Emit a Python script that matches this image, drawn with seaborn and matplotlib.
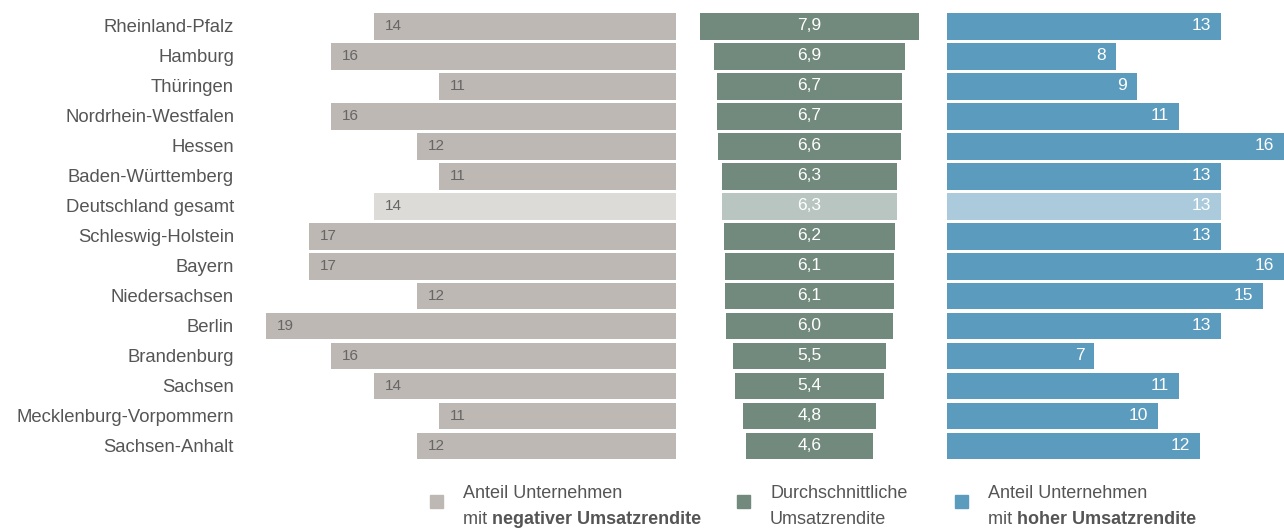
import pandas as pd
import seaborn as sns
import matplotlib.pyplot as plt

sns.set_style('white')
plt.rcParams['font.family'] = ['Liberation Sans', 'DejaVu Sans']

# Data
laender = ['Rheinland-Pfalz', 'Hamburg', 'Thüringen', 'Nordrhein-Westfalen', 'Hessen',
           'Baden-Württemberg', 'Deutschland gesamt', 'Schleswig-Holstein', 'Bayern',
           'Niedersachsen', 'Berlin', 'Brandenburg', 'Sachsen', 'Mecklenburg-Vorpommern',
           'Sachsen-Anhalt']
negativ = [14, 16, 11, 16, 12, 11, 14, 17, 17, 12, 19, 16, 14, 11, 12]
rendite = [7.9, 6.9, 6.7, 6.7, 6.6, 6.3, 6.3, 6.2, 6.1, 6.1, 6.0, 5.5, 5.4, 4.8, 4.6]
hoch = [13, 8, 9, 11, 16, 13, 13, 13, 16, 15, 13, 7, 11, 10, 12]

df = pd.DataFrame({'Land': laender, 'Negativ': negativ, 'Rendite': rendite, 'Hoch': hoch})
df['Rendite_r'] = df['Rendite'] / 2
df['Rendite_l'] = -df['Rendite'] / 2

highlight = 'Deutschland gesamt'
grau = ['#dcdbd7' if l == highlight else '#bdb8b3' for l in laender]
gruen = ['#b9c5c0' if l == highlight else '#728a7d' for l in laender]
blau = ['#abcbdc' if l == highlight else '#5b9bbe' for l in laender]

W, H = 1284, 529
fig = plt.figure(figsize=(W / 100, H / 100), dpi=100)
top, bottom = 11 / H, 461 / H
ax1 = fig.add_axes([266 / W, 1 - bottom, 410 / W, bottom - top])
ax2 = fig.add_axes([700 / W, 1 - bottom, 219 / W, bottom - top])
ax3 = fig.add_axes([947 / W, 1 - bottom, 337 / W, bottom - top])

bar_kw = dict(orient='h', width=0.9, saturation=1, legend=False, linewidth=0)

# Left panel: share with negative return
sns.barplot(data=df, x='Negativ', y='Land', hue='Land', palette=grau, ax=ax1, **bar_kw)
ax1.set_xlim(19, 0)
for i, v in enumerate(negativ):
    ax1.annotate(str(v), xy=(v, i), xytext=(8, 0), textcoords='offset points',
                 ha='left', va='center', fontsize=11, color='#666666')
ax1.tick_params(axis='y', length=0, pad=23, labelsize=13.3, labelcolor='#555555')

# Middle panel: average return, centred bars
sns.barplot(data=df, x='Rendite_r', y='Land', hue='Land', palette=gruen, ax=ax2, **bar_kw)
sns.barplot(data=df, x='Rendite_l', y='Land', hue='Land', palette=gruen, ax=ax2, **bar_kw)
ax2.set_xlim(-3.95, 3.95)
for i, v in enumerate(rendite):
    ax2.text(0, i, f'{v:.1f}'.replace('.', ','), ha='center', va='center',
             fontsize=12.5, color='white')
ax2.set_yticks([])

# Right panel: share with high return
sns.barplot(data=df, x='Hoch', y='Land', hue='Land', palette=blau, ax=ax3, **bar_kw)
ax3.set_xlim(0, 16)
for i, v in enumerate(hoch):
    ax3.annotate(str(v), xy=(v, i), xytext=(-7, 0), textcoords='offset points',
                 ha='right', va='center', fontsize=12.5, color='white')
ax3.set_yticks([])

for ax in (ax1, ax2, ax3):
    ax.set_ylim(14.5, -0.5)
    ax.set_xticks([])
    ax.set_xlabel('')
    ax.set_ylabel('')
    sns.despine(ax=ax, left=True, bottom=True)

# Legend
legend_items = [
    (430, '#bdb8b3', 'Anteil Unternehmen', 'mit ', 'negativer Umsatzrendite'),
    (737, '#728a7d', 'Durchschnittliche', 'Umsatzrendite', None),
    (955, '#5b9bbe', 'Anteil Unternehmen', 'mit ', 'hoher Umsatzrendite'),
]
for x, col, line1, line2, bold in legend_items:
    fig.patches.append(plt.Rectangle((x / W, 1 - 508 / H), 13 / W, 13 / H,
                                     color=col, transform=fig.transFigure))
    fig.text((x + 33) / W, 1 - 494 / H, line1, ha='left', va='center',
             fontsize=13, color='#555555')
    t = fig.text((x + 33) / W, 1 - 519 / H, line2, ha='left', va='center',
                 fontsize=13, color='#555555')
    if bold:
        plt.annotate(bold, xy=(1, 0.5), xycoords=t, ha='left', va='center',
                     fontsize=13, color='#555555', fontweight='bold',
                     annotation_clip=False)

fig.savefig('out.png', dpi=100)
